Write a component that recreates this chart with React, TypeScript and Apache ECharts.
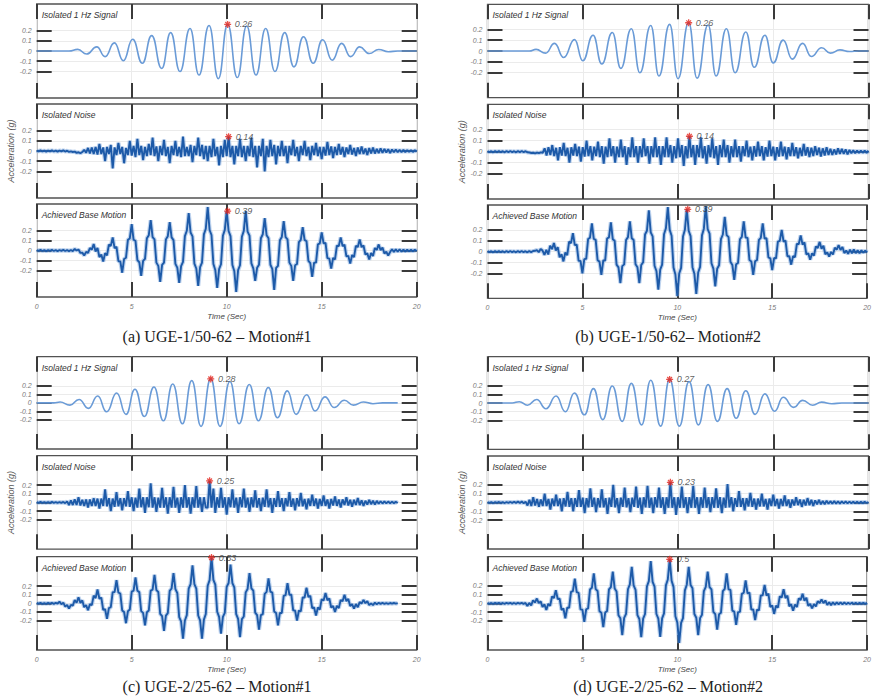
import React, { useEffect, useRef } from "react";
import * as echarts from "echarts";

const SANS = '"Liberation Sans", Arial, sans-serif';
const SERIF = '"Liberation Serif", "Times New Roman", serif';

const SUBPLOT_TITLES = ["Isolated 1 Hz Signal", "Isolated Noise", "Achieved Base Motion"];
const CAPTIONS = [
  "(a) UGE-1/50-62 – Motion#1",
  "(b) UGE-1/50-62– Motion#2",
  "(c) UGE-2/25-62 – Motion#1",
  "(d) UGE-2/25-62 – Motion#2",
];
const Y_NAME = "Acceleration (g)";
const X_NAME = "Time (Sec)";
const TIME_MAX = 20;
const X_INTERVAL = 5;
const Y_TICKS = [-0.2, -0.1, 0, 0.1, 0.2];
const SAMPLE_STEP = 0.1;

// ---- Isolated 1 Hz signal: [time, value] at visible peaks / troughs ----
const SIGNAL_A = [
  [0, 0], [1.7, 0], [2.16, 0.016], [2.63, -0.03], [3.16, 0.04], [3.6, -0.055], [4.09, 0.08], [4.56, -0.095],
  [5.05, 0.115], [5.56, -0.12], [6.05, 0.15], [6.58, -0.17], [7.05, 0.18], [7.54, -0.2], [8.07, 0.22], [8.54, -0.235],
  [9.07, 0.25], [9.56, -0.27], [10.05, 0.26], [10.56, -0.26], [11.05, 0.245], [11.54, -0.235], [12.05, 0.22], [12.54, -0.2],
  [13.05, 0.18], [13.54, -0.155], [14.04, 0.14], [14.55, -0.12], [15.05, 0.11], [15.55, -0.09], [16.05, 0.075], [16.52, -0.055],
  [17.0, 0.04], [17.5, -0.025], [18.0, 0.015], [18.5, -0.007], [19, 0], [20, 0],
];
const SIGNAL_B = [
  [0, 0], [2.2, 0], [2.55, 0.015], [3.05, -0.02], [3.52, 0.07], [4.0, -0.06], [4.57, 0.105], [5.0, -0.09],
  [5.54, 0.145], [6.0, -0.12], [6.55, 0.17], [7.0, -0.16], [7.55, 0.205], [8.0, -0.2], [8.57, 0.235], [9.0, -0.23],
  [9.56, 0.245], [10.0, -0.255], [10.56, 0.26], [11.0, -0.25], [11.58, 0.24], [12.0, -0.23], [12.54, 0.205], [13.0, -0.2],
  [13.56, 0.175], [14.0, -0.15], [14.56, 0.145], [15.0, -0.11], [15.52, 0.1], [16.0, -0.075], [16.54, 0.07], [17.0, -0.05],
  [17.54, 0.03], [18.0, -0.02], [18.5, 0.01], [19.0, -0.005], [19.5, 0], [20, 0],
];
const SIGNAL_C = [
  [0, 0], [0.9, 0], [1.23, 0.01], [1.75, -0.027], [2.23, 0.04], [2.72, -0.065], [3.21, 0.08], [3.68, -0.105],
  [4.21, 0.115], [4.7, -0.135], [5.17, 0.16], [5.67, -0.16], [6.17, 0.185], [6.67, -0.21], [7.16, 0.22], [7.67, -0.245],
  [8.16, 0.26], [8.65, -0.275], [9.16, 0.28], [9.65, -0.275], [10.17, 0.25], [10.65, -0.245], [11.19, 0.215], [11.67, -0.21],
  [12.19, 0.18], [12.67, -0.175], [13.19, 0.14], [13.65, -0.135], [14.21, 0.095], [14.65, -0.095], [15.17, 0.07], [15.66, -0.055],
  [16.19, 0.03], [16.67, -0.027], [17.19, 0.01], [17.7, -0.01], [18.2, 0], [19, 0],
];
const SIGNAL_D = [
  [0, 0], [1.3, 0], [1.67, 0.015], [2.1, -0.025], [2.58, 0.04], [3.07, -0.065], [3.6, 0.08], [4.09, -0.1],
  [4.56, 0.115], [5.09, -0.135], [5.56, 0.165], [6.05, -0.19], [6.55, 0.195], [7.07, -0.21], [7.55, 0.225], [8.09, -0.25],
  [8.57, 0.26], [9.09, -0.265], [9.56, 0.27], [10.07, -0.265], [10.58, 0.245], [11.07, -0.25], [11.58, 0.21], [12.07, -0.21],
  [12.58, 0.165], [13.05, -0.175], [13.56, 0.14], [14.05, -0.13], [14.56, 0.105], [15.07, -0.095], [15.52, 0.065], [16.07, -0.05],
  [16.54, 0.03], [17.07, -0.025], [17.54, 0.01], [18.07, -0.008], [18.6, 0], [20, 0],
];

// ---- Isolated noise: one value every 0.1 s ----
const NOISE_A = [
  .005, -.004, .006, -.005, .004, -.006, .005, -.004, .006, -.005,
  .004, -.006, .005, -.004, .006, -.005, .003, -.008, -.004, -.01,
  -.006, -.018, -.012, -.022, -.01, .012, -.018, .03, -.025, .035,
  -.03, .04, -.035, .07, -.03, .035, -.1, .04, -.03, .06,
  -.17, .035, -.04, .08, -.03, .04, -.12, .03, -.04, .1,
  -.045, .05, -.06, .12, -.04, .05, -.09, .04, -.05, .07,
  -.04, .13, -.05, .045, -.1, .05, -.04, .11, -.05, .04,
  -.12, .05, -.04, .1, -.05, .04, -.06, .14, -.05, .04,
  -.05, .06, -.11, .05, -.04, .13, -.05, .06, -.08, .05,
  -.1, .05, -.06, .12, -.05, .04, -.14, .05, -.06, .11,
  -.05, .14, -.06, .05, -.13, .05, -.05, .12, -.06, .05,
  -.1, .05, -.05, .13, -.06, .05, -.16, .05, -.05, .12,
  -.2, .05, -.06, .11, -.05, .06, -.13, .05, -.05, .1,
  -.05, .05, -.12, .05, -.04, .11, -.05, .04, -.1, .05,
  -.04, .1, -.05, .04, -.09, .05, -.04, .08, -.05, .04,
  -.08, .04, -.045, .09, -.04, .045, -.07, .04, -.04, .07,
  -.035, .04, -.06, .035, -.03, .06, -.035, .03, -.05, .035,
  -.03, .045, -.03, .025, -.04, .03, -.025, .035, -.025, .02,
  -.02, .025, -.018, .02, -.015, .018, -.02, .015, -.013, .015,
  -.012, .01, -.011, .01, -.01, .009, -.009, .008, -.009, .007,
  -.006,
];
const NOISE_B = [
  .005, -.005, .004, -.006, .005, -.004, .006, -.005, .004, -.006,
  .005, -.004, .006, -.005, .004, -.006, .005, -.004, .006, -.005,
  .004, -.006, -.008, -.012, -.01, -.015, -.008, -.014, -.006, -.01,
  .03, -.035, .04, -.03, .06, -.04, .035, -.08, .04, -.035,
  .08, -.04, .035, -.1, .04, -.035, .07, -.04, .045, -.09,
  .04, -.045, .1, -.04, .05, -.08, .045, -.04, .09, -.05,
  .05, -.11, .045, -.05, .12, -.04, .05, -.1, .045, -.05,
  .11, -.05, .05, -.12, .04, -.05, .13, -.05, .05, -.1,
  .05, -.05, .12, -.04, .05, -.11, .05, -.05, .13, -.05,
  .05, -.12, .05, -.05, .13, -.05, .06, -.1, .05, -.06,
  .12, -.05, .06, -.13, .05, -.06, .14, -.05, .06, -.12,
  .06, -.05, .13, -.06, .05, -.11, .06, -.05, .12, -.06,
  .05, -.12, .06, -.05, .11, -.05, .06, -.1, .05, -.05,
  .11, -.05, .05, -.09, .05, -.04, .1, -.05, .045, -.08,
  .05, -.045, .09, -.04, .05, -.08, .04, -.045, .1, -.04,
  .045, -.08, .04, -.045, .09, -.04, .045, -.07, .04, -.04,
  .08, -.04, .04, -.06, .035, -.04, .07, -.035, .04, -.05,
  .035, -.04, .05, -.03, .035, -.045, .03, -.035, .04, -.03,
  .025, -.03, .02, -.025, .03, -.02, .025, -.02, .02, -.025,
  .015, -.015, .012, -.014, .01, -.012, .01, -.01, .009, -.01,
  .008,
];
const NOISE_C = [
  .005, -.004, .006, -.005, .004, -.006, .005, -.004, .006, -.005,
  .004, -.006, .005, -.005, .006, -.008, .012, -.03, .025, -.03,
  .035, -.03, .06, -.035, .03, -.04, .035, -.06, .035, -.04,
  .05, -.04, .045, -.07, .045, -.04, .15, -.045, .05, -.1,
  .045, -.05, .12, -.045, .05, -.09, .05, -.045, .13, -.05,
  .06, -.1, .055, -.06, .16, -.055, .06, -.12, .06, -.055,
  .22, -.06, .06, -.11, .055, -.06, .17, -.06, .06, -.13,
  .06, -.06, .18, -.06, .055, -.12, .06, -.06, .2, -.06,
  .06, -.13, .06, -.06, .19, -.06, .06, -.11, .06, -.06,
  -.06, .25, -.06, .16, -.12, .06, -.06, .17, -.06, .06,
  -.14, .06, -.055, .15, -.06, .055, -.12, .06, -.055, .16,
  -.06, .055, -.11, .06, -.055, .14, -.06, .05, -.1, .055,
  -.05, .15, -.055, .05, -.12, .05, -.05, .13, -.05, .05,
  -.1, .05, -.045, .12, -.05, .045, -.09, .05, -.045, .11,
  -.045, .04, -.08, .045, -.04, .09, -.04, .045, -.07, .04,
  -.04, .08, -.04, .035, -.07, .04, -.035, .07, -.04, .035,
  -.06, .035, -.03, .06, -.035, .03, -.05, .03, -.03, .05,
  -.03, .025, -.04, .02, -.025, .03, -.02, .02, -.025, .018,
  -.015, .014, -.012, .012, -.01, .01, -.009, .008, -.008, .007,
  -.006,
];
const NOISE_D = [
  .005, -.005, .004, -.006, .005, -.004, .006, -.005, .004, -.006,
  .005, -.004, .006, -.005, .008, -.004, .01, -.006, .012, -.008,
  .01, -.035, .03, -.04, .06, -.035, .04, -.05, .035, -.04,
  .1, -.04, .04, -.08, .045, -.04, .09, -.04, .045, -.1,
  .05, -.045, .12, -.05, .05, -.1, .05, -.05, .14, -.05,
  .055, -.12, .05, -.055, .16, -.05, .055, -.11, .05, -.055,
  .15, -.055, .05, -.13, .055, -.05, .2, -.055, .05, -.12,
  .055, -.05, .17, -.055, .05, -.11, .055, -.05, .18, -.06,
  .055, -.13, .06, -.055, .19, -.06, .055, -.12, .06, -.055,
  .17, -.06, .06, -.13, .06, -.06, .23, -.06, .06, -.14,
  .06, -.06, .18, -.06, .06, -.12, .06, -.06, .19, -.06,
  .06, -.13, .06, -.06, .17, -.06, .06, -.11, .06, -.06,
  .16, -.06, .06, -.12, .055, -.06, .21, -.055, .06, -.1,
  .05, -.05, .13, -.05, .05, -.09, .05, -.045, .11, -.05,
  .045, -.08, .045, -.045, .1, -.045, .04, -.08, .045, -.04,
  .09, -.04, .04, -.07, .04, -.04, .08, -.04, .035, -.06,
  .035, -.035, .06, -.03, .035, -.05, .03, -.035, .05, -.03,
  .03, -.04, .025, -.02, .03, -.02, .018, -.02, .02, -.015,
  .015, -.014, .015, -.012, .013, -.012, .012, -.01, .011, -.01,
  .01, -.009, .009, -.008, .008, -.008, .007, -.007, .007, -.006,
  .006,
];

// ---- Achieved base motion: one value every 0.1 s ----
const MOTION_A = [
  .005, -.004, .006, -.005, .004, -.006, .005, -.004, .006, -.005,
  .004, -.006, .005, -.004, .006, -.005, .004, -.006, .005, -.006,
  .015, 0, .01, -.024, -.021, -.05, -.014, -.024, .024, .009,
  .065, -.01, .026, -.065, -.04, -.11, -.026, -.048, .058, .046,
  .13, .023, .036, -.106, -.108, -.22, -.084, -.071, .106, .119,
  .26, .106, .096, -.096, -.116, -.25, -.102, -.082, .122, .152,
  .3, .132, .11, -.12, -.152, -.31, -.142, -.12, .11, .142,
  .28, .13, .103, -.133, -.17, -.32, -.155, -.112, .142, .195,
  .37, .178, .14, -.13, -.178, -.35, -.165, -.12, .16, .215,
  .43, .203, .153, -.133, -.193, -.37, -.184, -.136, .146, .204,
  .39, .193, .143, -.143, -.203, -.41, -.194, -.146, .136, .194,
  .39, .187, .147, -.127, -.177, -.3, -.171, -.141, .121, .161,
  .32, .151, .121, -.141, -.181, -.39, -.173, -.151, .101, .133,
  .29, .132, .11, -.12, -.152, -.3, -.146, -.134, .084, .106,
  .23, .105, .092, -.102, -.125, -.26, -.12, -.12, .06, .07,
  .18, .07, .075, -.075, -.08, -.18, -.074, -.089, .049, .044,
  .13, .043, .058, -.058, -.053, -.13, -.045, -.065, .045, .035,
  .11, .033, .05, -.04, -.028, -.09, -.026, -.054, .024, .006,
  .06, .004, .029, -.029, -.012, -.05, -.015, .012, -.014, .012,
  -.012, .01, -.011, .009, -.01, .008, -.009, .008, -.008, .007,
  -.006,
];
const MOTION_B = [
  .005, -.005, .004, -.006, .005, -.004, .006, -.005, .004, -.006,
  .005, -.004, .006, -.005, .004, -.006, .005, -.004, .006, -.005,
  .004, -.006, .005, -.004, .006, .008, .015, -.005, .025, .01,
  -.03, .017, -.026, .056, .023, .08, .01, .042, -.052, -.025,
  -.09, -.008, -.033, .093, .078, .17, .06, .065, -.085, -.085,
  -.2, -.069, -.066, .116, .129, .26, .117, .109, -.079, -.092,
  -.215, -.081, -.081, .121, .131, .27, .115, .1, -.12, -.145,
  -.29, -.134, -.117, .107, .134, .28, .124, .107, -.117, -.144,
  -.29, -.123, -.097, .158, .193, .38, .178, .14, -.13, -.178,
  -.35, -.165, -.12, .16, .215, .41, .201, .146, -.146, -.211,
  -.41, -.202, -.15, .14, .202, .39, .193, .143, -.143, -.203,
  -.39, -.192, -.14, .15, .212, .42, .207, .167, -.107, -.157,
  -.32, -.158, -.126, .116, .158, .32, .153, .133, -.093, -.123,
  -.26, -.116, -.104, .114, .136, .28, .13, .127, -.077, -.09,
  -.215, -.087, -.079, .109, .127, .26, .121, .123, -.053, -.061,
  -.17, -.059, -.062, .092, .099, .2, .092, .102, -.042, -.042,
  -.12, -.041, -.051, .071, .071, .15, .065, .085, -.025, -.015,
  -.075, -.015, -.037, .047, .035, .09, .026, .054, -.024, -.006,
  -.045, -.003, -.026, .036, .018, .06, .015, .043, -.013, .01,
  -.02, .018, -.015, .02, -.014, .012, -.015, .012, -.01, .01,
  -.008,
];
const MOTION_C = [
  .005, -.004, .006, -.005, .004, -.006, .005, -.004, .006, -.005,
  .006, -.004, .02, -.01, .008, -.038, -.02, -.06, -.017, -.027,
  .037, .007, .07, .006, .034, -.044, -.021, -.08, -.01, -.02,
  .09, .06, .16, .053, .066, -.076, -.068, -.18, -.055, -.045,
  .13, .13, .27, .125, .112, -.082, -.1, -.23, -.092, -.072,
  .137, .147, .3, .145, .13, -.09, -.11, -.255, -.103, -.083,
  .148, .158, .33, .153, .131, -.121, -.148, -.32, -.142, -.114,
  .144, .172, .35, .165, .12, -.16, -.21, -.41, -.198, -.136,
  .171, .223, .44, .223, .171, -.141, -.198, -.41, -.188, -.123,
  .204, .269, .53, .272, .217, -.097, -.157, -.35, -.156, -.111,
  .191, .236, .45, .234, .184, -.124, -.179, -.39, -.182, -.152,
  .127, .167, .35, .173, .148, -.107, -.137, -.305, -.137, -.125,
  .11, .132, .29, .136, .124, -.094, -.111, -.255, -.111, -.111,
  .086, .096, .235, .1, .1, -.08, -.085, -.2, -.083, -.093,
  .068, .068, .18, .073, .086, -.056, -.048, -.14, -.048, -.073,
  .048, .033, .12, .036, .058, -.048, -.031, -.1, -.028, -.055,
  .04, .023, .1, .025, .051, -.03, -.01, -.06, -.009, -.044,
  .014, -.001, .04, .002, .025, -.02, 0, -.02, .008, -.01,
  .006, -.006, .005, -.005, .004, -.005, .004, -.004, .004, -.003,
  .003,
];
const MOTION_D = [
  .005, -.005, .004, -.006, .005, -.004, .006, -.005, .004, -.006,
  .005, -.004, .006, -.005, .004, -.006, .005, -.004, .006, -.005,
  .004, -.03, .005, -.023, .033, .01, .055, .002, .022, -.042,
  -.012, -.075, -.006, -.028, .078, .061, .15, .049, .054, -.074,
  -.059, -.17, -.05, -.05, .13, .14, .28, .127, .119, -.069,
  -.072, -.21, -.067, -.057, .157, .177, .34, .162, .14, -.09,
  -.107, -.27, -.105, -.088, .158, .185, .36, .169, .134, -.134,
  -.169, -.36, -.165, -.12, .16, .215, .415, .203, .153, -.133,
  -.178, -.385, -.173, -.121, .191, .253, .48, .243, .191, -.121,
  -.173, -.38, -.171, -.114, .204, .271, .5, .257, .187, -.147,
  -.217, -.45, -.222, -.167, .147, .212, .415, .209, .171, -.121,
  -.164, -.36, -.168, -.13, .14, .188, .36, .183, .158, -.097,
  -.123, -.3, -.125, -.108, .138, .165, .34, .159, .152, -.082,
  -.094, -.245, -.1, -.097, .107, .12, .26, .114, .121, -.071,
  -.069, -.19, -.072, -.08, .09, .092, .21, .088, .111, -.041,
  -.023, -.12, -.027, -.049, .079, .067, .16, .059, .088, -.033,
  -.009, -.083, -.013, -.042, .057, .038, .11, .03, .064, -.029,
  -.005, -.057, -.009, -.034, .024, .004, .045, .002, .033, -.018,
  .012, -.02, .012, -.014, .012, -.01, .011, -.01, .01, -.009,
  .008, -.008, .008, -.007, .007, -.007, .006, -.006, .006, -.006,
  .005,
];

// ---- Marked peaks [time, value] for signal / noise / achieved motion ----
const PEAKS_A = [[10.05, 0.26], [10.1, 0.14], [10.05, 0.39]];
const PEAKS_B = [[10.56, 0.26], [10.6, 0.14], [10.55, 0.39]];
const PEAKS_C = [[9.16, 0.28], [9.1, 0.25], [9.2, 0.53]];
const PEAKS_D = [[9.56, 0.27], [9.6, 0.23], [9.6, 0.5]];

const PANEL_DATA = [
  { signal: SIGNAL_A, noise: NOISE_A, motion: MOTION_A, peaks: PEAKS_A },
  { signal: SIGNAL_B, noise: NOISE_B, motion: MOTION_B, peaks: PEAKS_B },
  { signal: SIGNAL_C, noise: NOISE_C, motion: MOTION_C, peaks: PEAKS_C },
  { signal: SIGNAL_D, noise: NOISE_D, motion: MOTION_D, peaks: PEAKS_D },
];

// ---- layout (pixels) ----
const LAYOUT = [
  { left: 36.7, width: 380, tops: [4, 104, 204], heights: [94, 94, 93], yMax: 0.46, capX: 217, capY: 336, nameGap: 19 },
  { left: 487.5, width: 381, tops: [4.3, 104.3, 205], heights: [93.4, 94.7, 93.3], yMax: 0.43, capX: 668, capY: 336, nameGap: 21 },
  { left: 36.7, width: 380, tops: [356.7, 455.7, 556.7], heights: [92.3, 93.5, 93.3], yMax: 0.54, capX: 217, capY: 686, nameGap: 19 },
  { left: 487.5, width: 381, tops: [356.7, 456, 556.7], heights: [92.6, 93, 93.3], yMax: 0.53, capX: 668, capY: 686, nameGap: 21 },
];

const ASTERISK = "path://M5,0L5,10M0,5L10,5M1.6,1.6L8.4,8.4M8.4,1.6L1.6,8.4";
const TICK_STYLE = { color: "#3a3a3a", width: 2 };
const GRID_LINE = { color: "#ebebeb", width: 1 };
const SIGNAL_COLOR = "#6a9bd7";
const DENSE_COLOR = "#1d5aa8";
const HALO_COLOR = "#7ea8de";

function sampled(values: number[]) {
  return values.map((v, i) => [Math.round(i * SAMPLE_STEP * 10) / 10, v]);
}

function buildOption() {
  const grid: any[] = [];
  const xAxis: any[] = [];
  const yAxis: any[] = [];
  const series: any[] = [];
  const graphic: any[] = [];

  LAYOUT.forEach((lay, p) => {
    const d = PANEL_DATA[p];
    const lines = [d.signal, sampled(d.noise), sampled(d.motion)];
    for (let k = 0; k < 3; k++) {
      const gi = grid.length;
      grid.push({
        left: lay.left,
        top: lay.tops[k],
        width: lay.width,
        height: lay.heights[k],
        show: true,
        borderColor: "#525252",
        borderWidth: 1.3,
        containLabel: false,
      });
      xAxis.push({
        type: "value",
        gridIndex: gi,
        min: 0,
        max: TIME_MAX,
        interval: X_INTERVAL,
        position: "bottom",
        axisLine: { show: false, onZero: false },
        axisTick: { show: true, inside: true, length: 15, lineStyle: TICK_STYLE },
        axisLabel: {
          show: k === 2,
          fontSize: 7,
          fontStyle: "italic",
          color: "#7a7a7a",
          fontFamily: SANS,
          margin: 6,
        },
        splitLine: { show: true, lineStyle: GRID_LINE },
        name: k === 2 ? X_NAME : "",
        nameLocation: "middle",
        nameGap: 15,
        nameTextStyle: { fontSize: 8, fontStyle: "italic", color: "#444", fontFamily: SANS },
      });
      xAxis.push({
        type: "value",
        gridIndex: gi,
        min: 0,
        max: TIME_MAX,
        interval: X_INTERVAL,
        position: "top",
        axisLine: { show: false, onZero: false },
        axisTick: { show: true, inside: true, length: 15, lineStyle: TICK_STYLE },
        axisLabel: { show: false },
        splitLine: { show: false },
      });
      yAxis.push({
        type: "value",
        gridIndex: gi,
        min: -lay.yMax,
        max: lay.yMax,
        position: "left",
        axisLine: { show: false, onZero: false },
        axisTick: { show: true, inside: true, length: 15, lineStyle: TICK_STYLE, customValues: Y_TICKS },
        axisLabel: {
          show: true,
          customValues: Y_TICKS,
          fontSize: 7,
          fontStyle: "italic",
          color: "#7a7a7a",
          fontFamily: SANS,
          margin: 5,
          formatter: (v: number) => String(Math.round(v * 10) / 10),
        },
        splitLine: { show: true, lineStyle: GRID_LINE },
        name: k === 1 ? Y_NAME : "",
        nameLocation: "middle",
        nameRotate: 90,
        nameGap: lay.nameGap,
        nameTextStyle: { fontSize: 9, fontStyle: "italic", color: "#555", fontFamily: SANS },
      });
      yAxis.push({
        type: "value",
        gridIndex: gi,
        min: -lay.yMax,
        max: lay.yMax,
        position: "right",
        axisLine: { show: false, onZero: false },
        axisTick: { show: true, inside: true, length: 15, lineStyle: TICK_STYLE, customValues: Y_TICKS },
        axisLabel: { show: false },
        splitLine: { show: false },
      });

      if (k > 0) {
        series.push({
          type: "line",
          xAxisIndex: 2 * gi,
          yAxisIndex: 2 * gi,
          data: lines[k],
          showSymbol: false,
          symbol: "none",
          lineStyle: { color: HALO_COLOR, width: 4.2, opacity: 0.5 },
          silent: true,
          z: 1,
        });
      }
      series.push({
        type: "line",
        xAxisIndex: 2 * gi,
        yAxisIndex: 2 * gi,
        data: lines[k],
        showSymbol: false,
        symbol: "none",
        smooth: k === 0 ? 0.5 : false,
        smoothMonotone: k === 0 ? "x" : undefined,
        lineStyle: k === 0 ? { color: SIGNAL_COLOR, width: 1.6 } : { color: DENSE_COLOR, width: 1.9 },
        silent: true,
        z: 2,
      });
      series.push({
        type: "scatter",
        xAxisIndex: 2 * gi,
        yAxisIndex: 2 * gi,
        data: [d.peaks[k]],
        symbol: ASTERISK,
        symbolSize: 7,
        itemStyle: { color: "#e3241c", borderColor: "#e3241c", borderWidth: 1.3 },
        label: {
          show: true,
          position: "right",
          distance: 3,
          formatter: (prm: any) => String(prm.value[1]),
          fontSize: 9,
          fontStyle: "italic",
          color: "#333",
          fontFamily: SANS,
        },
        silent: true,
        z: 5,
      });

      graphic.push({
        type: "text",
        x: lay.left + 5,
        y: lay.tops[k] + 11,
        style: {
          text: SUBPLOT_TITLES[k],
          fontSize: 8.5,
          fontStyle: "italic",
          fontFamily: SANS,
          fill: "#333",
          align: "left",
          verticalAlign: "middle",
        },
        z: 10,
      });
    }
    graphic.push({
      type: "text",
      x: lay.capX,
      y: lay.capY,
      style: {
        text: CAPTIONS[p],
        fontSize: 16,
        fontFamily: SERIF,
        fill: "#222",
        align: "center",
        verticalAlign: "middle",
      },
    });
  });

  return { animation: false, backgroundColor: "#fff", grid, xAxis, yAxis, series, graphic };
}

export default function App() {
  const ref = useRef<HTMLDivElement>(null);
  useEffect(() => {
    if (!ref.current) return;
    const chart = echarts.init(ref.current, null, { renderer: "svg" });
    chart.setOption(buildOption() as any);
    return () => chart.dispose();
  }, []);
  return (
    <div
      ref={ref}
      style={{ position: "absolute", left: 0, top: 0, width: 874, height: 699, background: "#fff" }}
    />
  );
}
